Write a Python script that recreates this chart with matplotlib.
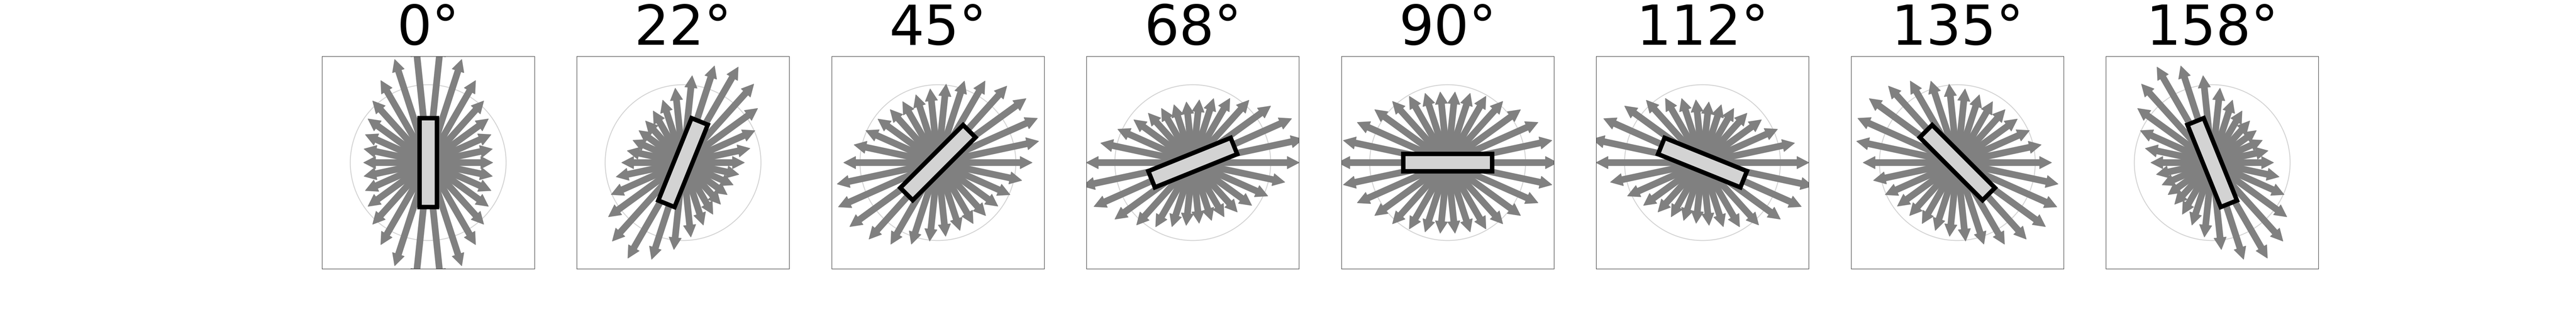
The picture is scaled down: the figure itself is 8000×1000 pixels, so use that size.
import numpy as np
import matplotlib
matplotlib.use("Agg")
import matplotlib.pyplot as plt
from matplotlib.patches import Rectangle, Circle

# ---- data ----
rod_angles = [0, 22, 45, 68, 90, 112, 135, 158]          # rod tilt, degrees clockwise from vertical
titles = ["0°", "22°", "45°", "68°", "90°", "112°", "135°", "158°"]
arrow_dirs = [0, 12, 24, 36, 48, 60, 72, 84, 96, 108, 120, 132, 144, 156, 168,
              180, 192, 204, 216, 228, 240, 252, 264, 276, 288, 300, 312, 324, 336, 348]
# envelope of arrow tips per panel (ellipse: long semi-axis, short semi-axis, tilt from vertical)
env_major = [1.55, 1.42, 1.41, 1.45, 1.41, 1.45, 1.41, 1.42]
env_minor = [0.83, 0.70, 0.905, 0.78, 0.91, 0.78, 0.905, 0.70]
env_tilt = [0, 32, 60, 77, 90, 103, 120, 148]
ref_radius = 1.0          # light grey reference circle
rod_length = 1.14
rod_width = 0.225

fig, axes = plt.subplots(1, 8, figsize=(80, 10), dpi=100)
lim = 1.363

for ax, th, ttl, a, b, tilt in zip(axes, rod_angles, titles, env_major, env_minor, env_tilt):
    ax.add_patch(Circle((0, 0), ref_radius, fill=False, ec="lightgray", lw=2, zorder=1))
    major_dir = np.deg2rad(90 - tilt)
    for d in arrow_dirs:
        phi = np.deg2rad(d)
        dd = phi - major_dir
        r = 1.0 / np.sqrt(np.cos(dd) ** 2 / a ** 2 + np.sin(dd) ** 2 / b ** 2)
        ax.arrow(0, 0, r * np.cos(phi), r * np.sin(phi), width=0.08, head_width=0.16,
                 head_length=0.155, length_includes_head=True, color="gray",
                 lw=1, zorder=2)
    ax.add_patch(Rectangle((-rod_width / 2, -rod_length / 2), rod_width, rod_length,
                           angle=-th, rotation_point="center", fc="lightgray",
                           ec="black", lw=10, zorder=3))
    ax.set_xlim(-lim, lim)
    ax.set_ylim(-lim, lim)
    ax.set_aspect("equal")
    ax.set_xticks([])
    ax.set_yticks([])
    ax.set_title(ttl, fontsize=123, pad=24)

fig.savefig("out.png", dpi=100)
